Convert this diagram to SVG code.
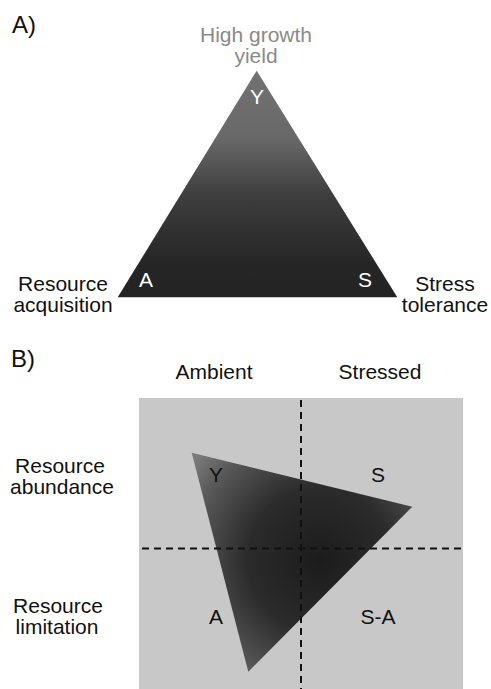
<svg xmlns="http://www.w3.org/2000/svg" width="491" height="689" viewBox="0 0 491 689">
  <style>
    text { font-family: "Liberation Sans", Arial, sans-serif; font-size: 21px; fill: #111; text-anchor: middle; }
    .panel { font-size: 24px; text-anchor: start; }
    .gray { fill: #8a8a8a; }
    .white { fill: #ffffff; }
    .dash { stroke: #111; stroke-width: 2; stroke-dasharray: 7 5; fill: none; }
  </style>
  <defs>
    <linearGradient id="gA" x1="0" y1="0" x2="0" y2="1">
      <stop offset="0" stop-color="#727272"/>
      <stop offset="0.3" stop-color="#686868"/>
      <stop offset="0.55" stop-color="#3e3e3e"/>
      <stop offset="0.85" stop-color="#262626"/>
      <stop offset="1" stop-color="#232323"/>
    </linearGradient>
    <radialGradient id="gB" gradientUnits="userSpaceOnUse" cx="320" cy="560" r="160">
      <stop offset="0" stop-color="#1c1c1c"/>
      <stop offset="0.45" stop-color="#2b2b2b"/>
      <stop offset="0.8" stop-color="#575757"/>
      <stop offset="1" stop-color="#7a7a7a"/>
    </radialGradient>
  </defs>

  <!-- Panel A -->
  <text class="panel" x="12" y="33">A)</text>
  <g id="triangleA">
    <polygon points="256.7,70.7 117.7,297.3 397.3,297.3" fill="url(#gA)"/>
    <text class="white" x="257" y="104">Y</text>
    <text class="white" x="146" y="287">A</text>
    <text class="white" x="365" y="287">S</text>
  </g>
  <g id="label-yield">
    <text class="gray" x="256" y="42">High growth</text>
    <text class="gray" x="256" y="63">yield</text>
  </g>
  <g id="label-acquisition">
    <text x="63" y="291">Resource</text>
    <text x="63" y="312">acquisition</text>
  </g>
  <g id="label-stress">
    <text x="445" y="291">Stress</text>
    <text x="445" y="312">tolerance</text>
  </g>

  <!-- Panel B -->
  <text class="panel" x="11" y="367">B)</text>
  <g id="col-ambient"><text x="214" y="379">Ambient</text></g>
  <g id="col-stressed"><text x="380" y="379">Stressed</text></g>
  <g id="row-abundance">
    <text x="60" y="473">Resource</text>
    <text x="62" y="494">abundance</text>
  </g>
  <g id="row-limitation">
    <text x="58" y="613">Resource</text>
    <text x="57" y="634">limitation</text>
  </g>
  <g id="grid">
    <rect x="139" y="398" width="324" height="300" fill="#c8c8c8"/>
  </g>
  <g id="triangleB">
    <polygon points="191.7,452.7 412.3,506.7 248.3,671.7" fill="url(#gB)"/>
  </g>
  <g id="connectors">
    <line class="dash" x1="301" y1="400" x2="301" y2="689"/>
    <line class="dash" x1="142" y1="548.5" x2="463" y2="548.5"/>
  </g>
  <g id="quadrant-labels">
    <text x="216" y="482">Y</text>
    <text x="378" y="482">S</text>
    <text x="216" y="624">A</text>
    <text x="378" y="624">S-A</text>
  </g>
</svg>
